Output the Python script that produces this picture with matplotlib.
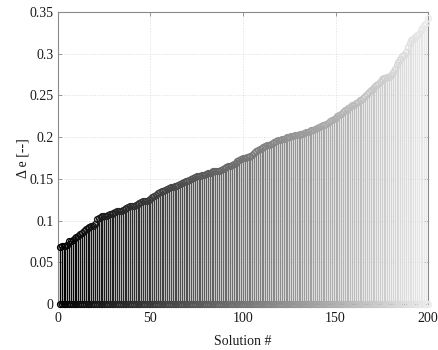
import numpy as np
import matplotlib
matplotlib.use("Agg")
import matplotlib.pyplot as plt

plt.rcParams['font.family'] = ['Liberation Serif', 'DejaVu Serif']

# Sorted objective differences for each solution
delta_e = [
    0.068, 0.069, 0.069, 0.070, 0.071, 0.075, 0.076, 0.077, 0.079, 0.080,
    0.082, 0.084, 0.085, 0.088, 0.090, 0.091, 0.092, 0.093, 0.094, 0.096,
    0.102, 0.103, 0.104, 0.105, 0.105, 0.106, 0.107, 0.108, 0.108, 0.109,
    0.110, 0.111, 0.111, 0.112, 0.113, 0.114, 0.115, 0.116, 0.117, 0.117,
    0.118, 0.119, 0.120, 0.121, 0.122, 0.123, 0.124, 0.124, 0.125, 0.126,
    0.128, 0.130, 0.131, 0.133, 0.134, 0.135, 0.136, 0.137, 0.138, 0.139,
    0.140, 0.140, 0.141, 0.142, 0.143, 0.144, 0.145, 0.146, 0.147, 0.148,
    0.149, 0.150, 0.151, 0.152, 0.153, 0.153, 0.154, 0.155, 0.155, 0.156,
    0.157, 0.157, 0.158, 0.159, 0.159, 0.160, 0.160, 0.161, 0.162, 0.163,
    0.164, 0.165, 0.166, 0.167, 0.168, 0.169, 0.171, 0.173, 0.174, 0.175,
    0.175, 0.176, 0.176, 0.177, 0.179, 0.181, 0.183, 0.185, 0.186, 0.187,
    0.188, 0.189, 0.190, 0.191, 0.192, 0.193, 0.194, 0.195, 0.196, 0.197,
    0.198, 0.198, 0.199, 0.200, 0.200, 0.201, 0.201, 0.202, 0.203, 0.203,
    0.204, 0.204, 0.205, 0.206, 0.206, 0.207, 0.208, 0.209, 0.210, 0.211,
    0.212, 0.213, 0.214, 0.215, 0.216, 0.217, 0.219, 0.220, 0.222, 0.223,
    0.225, 0.226, 0.228, 0.230, 0.232, 0.233, 0.235, 0.236, 0.238, 0.239,
    0.241, 0.242, 0.244, 0.245, 0.247, 0.249, 0.252, 0.254, 0.256, 0.258,
    0.260, 0.262, 0.264, 0.266, 0.270, 0.271, 0.271, 0.272, 0.272, 0.274,
    0.278, 0.282, 0.286, 0.290, 0.294, 0.297, 0.299, 0.302, 0.308, 0.313,
    0.316, 0.318, 0.320, 0.322, 0.324, 0.328, 0.331, 0.334, 0.337, 0.343,
]
solution = list(range(1, len(delta_e) + 1))

x_ticks = [0, 50, 100, 150, 200]
y_ticks = [0, 0.05, 0.1, 0.15, 0.2, 0.25, 0.3, 0.35]
y_ticklabels = ['0', '0.05', '0.1', '0.15', '0.2', '0.25', '0.3', '0.35']

fig = plt.figure(figsize=(4.38, 3.5), dpi=100)
ax = fig.add_axes([0.1324, 0.1314, 0.9772 - 0.1324, 0.9657 - 0.1314])

n = len(delta_e)
shades = np.linspace(0.0, 0.92, n)
for xi, v, s in zip(solution, delta_e, shades):
    c = (s, s, s)
    ax.plot([xi, xi], [0, v], '-', color=c, lw=1.0, zorder=2)
    ax.plot([xi, xi], [0, v], 'o', color=c, mfc='none', ms=4.2, mew=1.0,
            zorder=3, clip_on=False)

ax.set_xlim(0, 200)
ax.set_ylim(0, 0.35)
ax.set_xticks(x_ticks)
ax.set_yticks(y_ticks)
ax.set_yticklabels(y_ticklabels)

ax.grid(True, color='#dcdcdc', linestyle=(0, (2, 2)), linewidth=0.5, zorder=0)
ax.set_axisbelow(True)

for sp in ax.spines.values():
    sp.set_color('#8a8a8a')
    sp.set_linewidth(0.8)
ax.tick_params(direction='in', length=3, width=0.6, color='#8a8a8a',
               top=True, right=True, labelsize=10, labelcolor='#1a1a1a')
ax.tick_params(axis='x', pad=6)
ax.tick_params(axis='y', pad=3)

ax.set_xlabel('Solution #', fontsize=10, color='#1a1a1a', labelpad=7)
ax.set_ylabel('\u0394 e [--]', fontsize=10, color='#1a1a1a', labelpad=0)

fig.savefig('out.png', dpi=100)
